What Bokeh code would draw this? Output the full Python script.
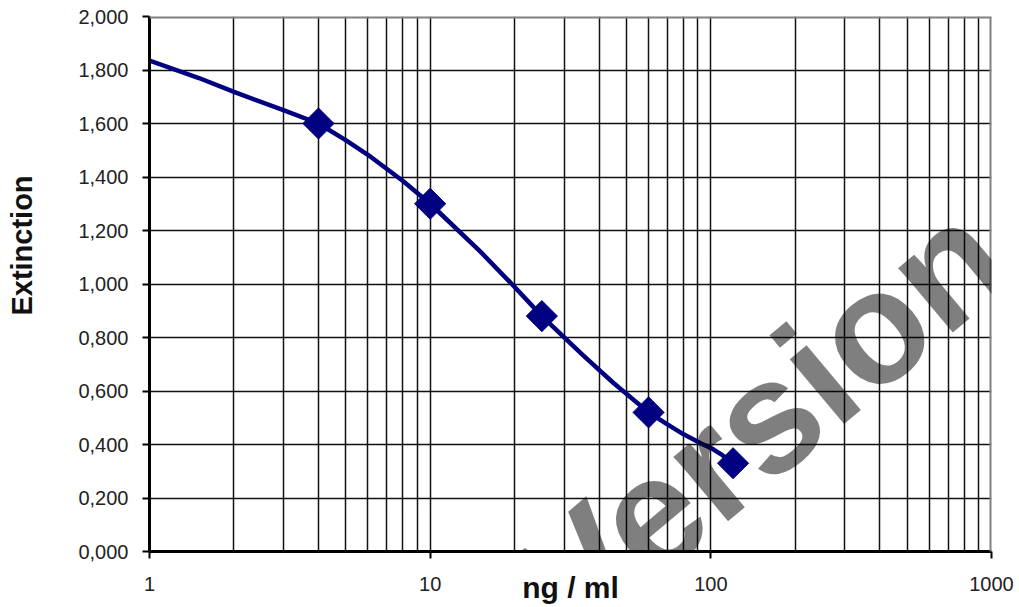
import numpy as np
from bokeh.plotting import figure
from bokeh.models import Range1d, FixedTicker, Label, Span
from bokeh.embed import file_html
from bokeh.resources import INLINE

# ---- data ----
# fitted standard curve
curve_conc = [1, 1.5, 2, 3, 4, 5, 6, 8, 10, 15, 20, 25, 35, 45, 60, 70, 80, 92, 102, 110, 120]
curve_ext = [1.835, 1.770, 1.718, 1.650, 1.600, 1.538, 1.483, 1.385, 1.300, 1.124, 0.989,
             0.880, 0.734, 0.630, 0.520, 0.475, 0.438, 0.405, 0.382, 0.360, 0.330]
# measured standards (diamond markers)
std_conc = [4, 10, 25, 60, 120]
std_ext = [1.60, 1.30, 0.88, 0.52, 0.33]

x_tick_values = [1, 10, 100, 1000]
x_tick_labels = ["1", "10", "100", "1000"]
y_tick_values = [0.0, 0.2, 0.4, 0.6, 0.8, 1.0, 1.2, 1.4, 1.6, 1.8, 2.0]
y_tick_labels = ["0,000", "0,200", "0,400", "0,600", "0,800", "1,000",
                 "1,200", "1,400", "1,600", "1,800", "2,000"]
x_title = "ng / ml"
y_title = "Extinction"
watermark_text = "Version"

FONT = "Liberation Sans"
NAVY = "#000080"

p = figure(width=1019, height=607, x_axis_type="log",
           x_range=Range1d(1, 1000), y_range=Range1d(0, 2.0),
           output_backend="svg", toolbar_location=None,
           min_border_left=149, min_border_right=28,
           min_border_top=16, min_border_bottom=56)
p.background_fill_color = "white"
p.border_fill_color = "white"
p.outline_line_color = None

# ticks and grid
x_minor = [m * 10 ** k for k in range(3) for m in range(2, 10)]
xt = FixedTicker(ticks=x_tick_values, minor_ticks=x_minor)
yt = FixedTicker(ticks=y_tick_values, minor_ticks=[])
p.xaxis.ticker = xt
p.yaxis.ticker = yt
p.xgrid.ticker = xt
p.ygrid.ticker = yt
p.xaxis.major_label_overrides = dict(zip(x_tick_values, x_tick_labels))
p.yaxis.major_label_overrides = dict(zip(y_tick_values, y_tick_labels))

for g in (p.xgrid, p.ygrid):
    g.grid_line_color = "#111111"
    g.grid_line_width = 1.5
p.xgrid.minor_grid_line_color = "#111111"
p.xgrid.minor_grid_line_width = 1.5

for ax in (p.xaxis, p.yaxis):
    ax.axis_line_color = "black"
    ax.axis_line_width = 3
    ax.major_tick_line_color = "black"
    ax.major_tick_line_width = 2
    ax.major_tick_out = 7
    ax.major_tick_in = 0
    ax.minor_tick_line_color = None
    ax.major_label_text_font = FONT
    ax.major_label_text_font_size = "20px"
    ax.major_label_text_color = "#222222"
    ax.axis_label_text_font = FONT
    ax.axis_label_text_font_style = "bold"
    ax.axis_label_text_color = "#111111"
p.xaxis.major_label_standoff = 18
p.yaxis.major_label_standoff = 14

# x axis title
p.xaxis.axis_label = x_title
p.xaxis.axis_label_text_font_size = "30px"
p.xaxis.axis_label_standoff = -23

# y axis title, placed in the left side panel (not clipped by the frame)
p.add_layout(Label(x=-22, y=306, x_units="screen", y_units="screen", text=y_title,
                   angle=90, angle_units="deg", text_font=FONT, text_font_style="bold",
                   text_font_size="29px", text_color="#111111",
                   text_align="center", text_baseline="alphabetic"), "left")

# top / right frame border in grey
p.add_layout(Span(location=2.0, dimension="width", line_color="#808080", line_width=4))
p.add_layout(Span(location=1000, dimension="height", line_color="#808080", line_width=4))

# curve and standards
p.line(curve_conc, curve_ext, line_color=NAVY, line_width=4.5)
p.scatter(std_conc, std_ext, marker="square", size=22, angle=np.pi / 4,
          fill_color=NAVY, line_color=NAVY, line_width=1)

# semi-transparent watermark
p.add_layout(Label(x=834, y=317, x_units="screen", y_units="screen", text=watermark_text,
                   angle=40, angle_units="deg", text_font=FONT, text_font_style="bold",
                   text_font_size="160px", text_color="black", text_alpha=0.5,
                   text_align="right", text_baseline="alphabetic"))

open("out.html", "w").write(file_html(p, INLINE))
